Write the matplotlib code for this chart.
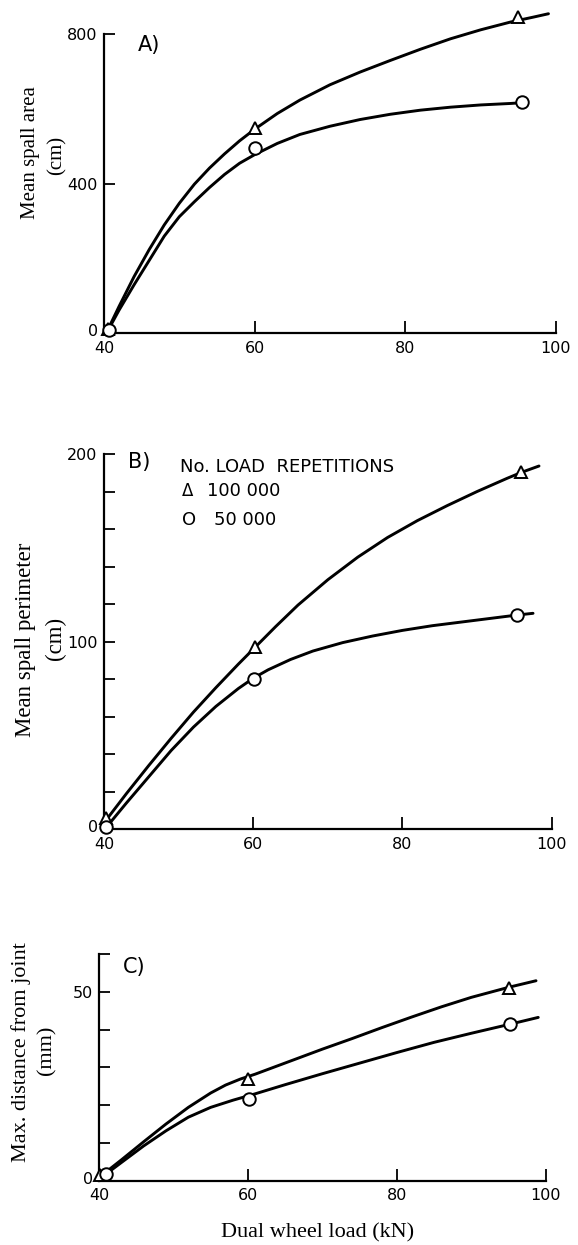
import matplotlib
matplotlib.use("Agg")
import matplotlib.pyplot as plt
from matplotlib.ticker import FixedLocator, FixedFormatter
from matplotlib.transforms import ScaledTranslation

W, H = 578, 1245

# ---------------- data ----------------
loads_tick = [40, 60, 80, 100]

# measured points (markers)
A_x_100k = [40.5, 60.0, 95.0]
A_y_100k = [12, 548, 847]
A_x_50k = [40.7, 60.0, 95.5]
A_y_50k = [10, 497, 618]

B_x_100k = [40.3, 60.2, 95.9]
B_y_100k = [6, 97, 190.6]
B_x_50k = [40.3, 60.1, 95.4]
B_y_50k = [1, 80, 114.4]

C_x_100k = [40.1, 60.0, 95.1]
C_y_100k = [1.5, 26.8, 51.1]
C_x_50k = [40.9, 60.2, 95.2]
C_y_50k = [1.8, 21.6, 41.4]

# hand-drawn fitted curves
A_cx_100k = [40.4, 42, 44, 46, 48, 50, 52, 54, 56, 58, 60, 63, 66, 70, 74, 78, 82, 86, 90, 94, 97, 99]
A_cy_100k = [5, 72, 152, 224, 290, 348, 399, 442, 480, 515, 546, 588, 624, 665, 699, 730, 760, 788, 812, 833, 846, 855]
A_cx_50k = [40.4, 42, 44, 46, 48, 50, 52, 54, 56, 58, 60, 63, 66, 70, 74, 78, 82, 86, 90, 94, 95.5]
A_cy_50k = [3, 62, 130, 195, 260, 312, 352, 390, 425, 455, 478, 508, 532, 554, 572, 586, 597, 605, 611, 615, 617]

B_cx_100k = [40.3, 43, 46, 49, 52, 55, 58, 60, 63, 66, 70, 74, 78, 82, 86, 90, 94, 96, 98.3]
B_cy_100k = [5, 19, 34, 48.5, 62.5, 75.5, 88, 96, 108, 119.5, 133, 145, 155.5, 164.5, 172.5, 180, 187, 190.3, 193.6]
B_cx_50k = [40.3, 43, 46, 49, 52, 55, 58, 60, 62, 65, 68, 72, 76, 80, 84, 88, 92, 95.4, 97.5]
B_cy_50k = [1, 14, 28, 42, 54.5, 65.5, 75, 80.5, 85, 90.5, 95, 99.5, 103, 106, 108.5, 110.5, 112.5, 114.2, 115.1]

C_cx_100k = [40.1, 43, 46, 49, 52, 55, 57, 59, 61, 64, 67, 70, 74, 78, 82, 86, 90, 95.1, 98.7]
C_cy_100k = [1.0, 5.5, 10.3, 15.0, 19.4, 23.2, 25.3, 26.9, 28.2, 30.4, 32.6, 34.8, 37.6, 40.5, 43.3, 46.0, 48.5, 51.2, 52.9]
C_cx_50k = [40.5, 43, 46, 49, 52, 55, 58, 61, 65, 70, 75, 80, 85, 90, 95.2, 99]
C_cy_50k = [1.1, 4.8, 9.2, 13.2, 16.8, 19.4, 21.3, 23.0, 25.4, 28.3, 31.1, 33.9, 36.6, 39.0, 41.4, 43.2]

A_yticks = [0, 400, 800]
A_ylabels = ["0", "400", "800"]
B_yticks = list(range(0, 201, 20))
B_ylabels = ["0", "", "", "", "", "100", "", "", "", "", "200"]
C_yticks = list(range(0, 61, 10))
C_ylabels = ["0", "", "", "", "", "50", ""]

legend_title = "No. LOAD  REPETITIONS"
legend_items = [("\u0394", "100 000"), ("O", "50 000")]

# ---------------- figure ----------------
fig = plt.figure(figsize=(W / 100, H / 100), dpi=100)
fig.patch.set_facecolor("white")

SANS = ["DejaVu Sans"]
SERIF = ["Liberation Serif", "DejaVu Serif"]


def px_axes(left, right, top, bottom):
    return fig.add_axes([left / W, 1 - bottom / H, (right - left) / W, (bottom - top) / H])


def style(ax, ylim, yticks, ylabels):
    ax.set_xlim(40, 100)
    ax.set_ylim(*ylim)
    for s in ("top", "right"):
        ax.spines[s].set_visible(False)
    for s in ("left", "bottom"):
        ax.spines[s].set_linewidth(1.6)
        ax.spines[s].set_color("black")
    ax.xaxis.set_major_locator(FixedLocator(loads_tick))
    ax.xaxis.set_major_formatter(FixedFormatter([str(v) for v in loads_tick]))
    ax.yaxis.set_major_locator(FixedLocator(yticks))
    ax.yaxis.set_major_formatter(FixedFormatter(ylabels))
    ax.tick_params(axis="y", direction="in", length=8, width=1.3, pad=4.5,
                   labelsize=11.5, colors="black")
    ax.tick_params(axis="x", direction="in", length=9, width=1.3, pad=5.5,
                   labelsize=11.5, colors="black")
    for lab in ax.get_xticklabels() + ax.get_yticklabels():
        lab.set_family(SANS)
    zero = ax.get_yticklabels()[0]
    zero.set_transform(zero.get_transform() + ScaledTranslation(0, 3 / 100, fig.dpi_scale_trans))
    ax.set_facecolor("none")


def draw(ax, cx1, cy1, cx2, cy2, mx1, my1, mx2, my2):
    ax.plot(cx1, cy1, color="black", lw=2.1, solid_capstyle="round",
            solid_joinstyle="round", clip_on=False, zorder=3)
    ax.plot(cx2, cy2, color="black", lw=2.1, solid_capstyle="round",
            solid_joinstyle="round", clip_on=False, zorder=3)
    ax.plot(mx1, my1, linestyle="none", marker="^", ms=8, mfc="white", mec="black",
            mew=1.4, clip_on=False, zorder=4)
    ax.plot(mx2, my2, linestyle="none", marker="o", ms=9, mfc="white", mec="black",
            mew=1.4, clip_on=False, zorder=5)


axA = px_axes(104, 556, 34.3, 333.3)
style(axA, (0, 800), A_yticks, A_ylabels)
draw(axA, A_cx_100k, A_cy_100k, A_cx_50k, A_cy_50k, A_x_100k, A_y_100k, A_x_50k, A_y_50k)

axB = px_axes(104, 551.7, 454, 829.3)
style(axB, (0, 200), B_yticks, B_ylabels)
draw(axB, B_cx_100k, B_cy_100k, B_cx_50k, B_cy_50k, B_x_100k, B_y_100k, B_x_50k, B_y_50k)

axC = px_axes(99, 545.7, 953.9, 1180.7)
style(axC, (0, 60), C_yticks, C_ylabels)
draw(axC, C_cx_100k, C_cy_100k, C_cx_50k, C_cy_50k, C_x_100k, C_y_100k, C_x_50k, C_y_50k)


def ftext(x, y, s, **kw):
    fig.text(x / W, 1 - y / H, s, **kw)


# y labels
ftext(31, 153, "Mean spall area", rotation=90, ha="center", va="center", family=SERIF, fontsize=15)
ftext(57, 155, "(cm)", rotation=90, ha="center", va="center", family=SERIF, fontsize=15)
ftext(26, 640, "Mean spall perimeter", rotation=90, ha="center", va="center", family=SERIF, fontsize=16.5)
ftext(55, 638, "(cm)", rotation=90, ha="center", va="center", family=SERIF, fontsize=16.5)
ftext(21, 1052, "Max. distance from joint", rotation=90, ha="center", va="center", family=SERIF, fontsize=16)
ftext(47, 1050, "(mm)", rotation=90, ha="center", va="center", family=SERIF, fontsize=16)

# x label
ftext(318, 1233, "Dual wheel load (kN)", ha="center", va="center", family=SERIF, fontsize=16)

# panel labels
ftext(138, 45, "A)", ha="left", va="center", family=SANS, fontsize=15)
ftext(128, 462, "B)", ha="left", va="center", family=SANS, fontsize=15)
ftext(123, 967, "C)", ha="left", va="center", family=SANS, fontsize=15)

# legend text in panel B
ftext(180, 467, legend_title, ha="left", va="center", family=SANS, fontsize=13)
ftext(182, 491, legend_items[0][0], ha="left", va="center", family=SANS, fontsize=12)
ftext(207, 491, legend_items[0][1], ha="left", va="center", family=SANS, fontsize=13)
ftext(182, 520, legend_items[1][0], ha="left", va="center", family=SANS, fontsize=13)
ftext(214, 520, legend_items[1][1], ha="left", va="center", family=SANS, fontsize=13)

fig.savefig("out.png", dpi=100, facecolor="white")
